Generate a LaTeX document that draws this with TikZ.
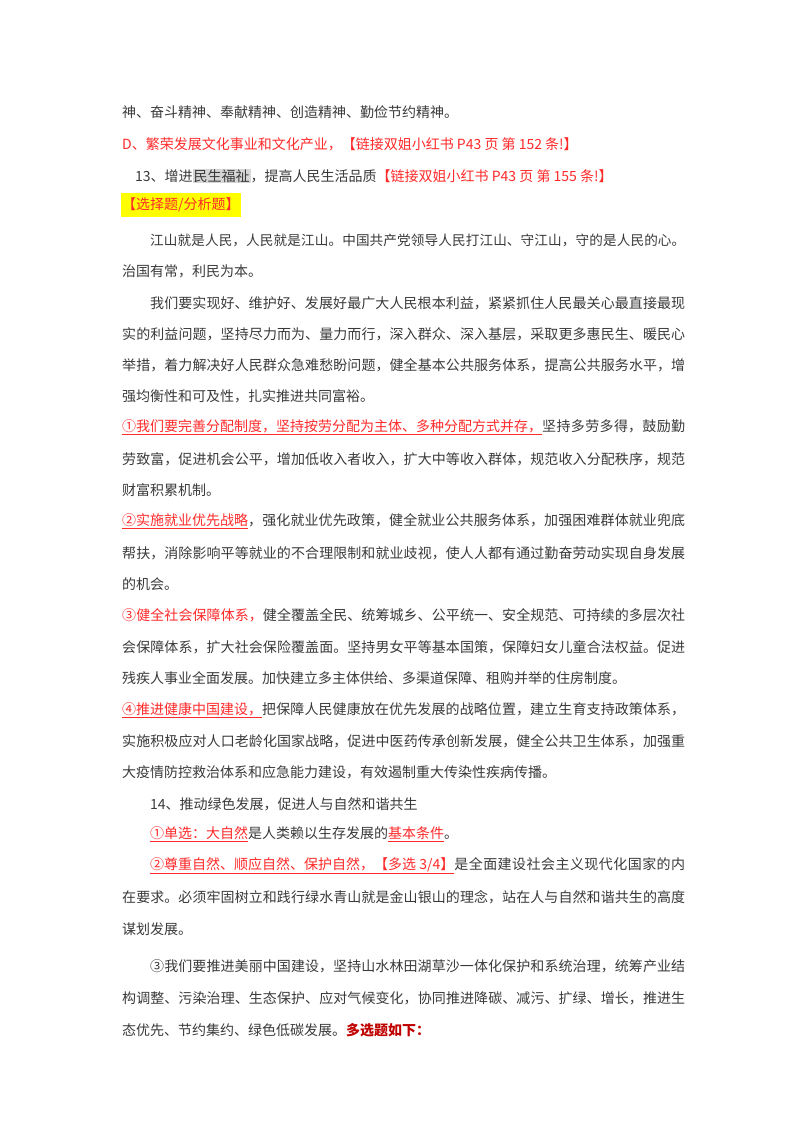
\documentclass[tikz,border=0pt]{standalone}
\usepackage{fontspec}
\setmainfont{Noto Sans CJK SC}
\XeTeXlinebreaklocale "zh"
\XeTeXlinebreakskip=0pt plus 2pt
\definecolor{txt}{HTML}{3A3A3A}
\definecolor{rd}{HTML}{FF2A2A}
\definecolor{drd}{HTML}{C00000}
\definecolor{yl}{HTML}{FFFF00}
\definecolor{hl}{HTML}{D6D6D6}
\newcommand\jl[2]{\parbox{#1pt}{\parfillskip=0pt\relax #2}}
\newcommand\rr[1]{\textcolor{rd}{#1}}
\newcommand\ru[1]{\textcolor{rd}{\underline{#1}}}
\tikzset{ln/.style={anchor=west,inner sep=0pt,font=\fontsize{14}{16}\selectfont,text=txt}}
\begin{document}
\begin{tikzpicture}[x=1pt,y=-1pt]
\useasboundingbox[fill=white] (0,0) rectangle (800,1132);
\node[ln] (a1) at (122,112) {神、奋斗精神、奉献精神、创造精神、勤俭节约精神。};
\node[ln,text=rd] (a2) at (122,144) {D、繁荣发展文化事业和文化产业，【链接双姐小红书 P43 页 第 152 条!】};
\node[ln] (a3) at (135,176) {13、增进{\fboxsep=1pt\colorbox{hl}{民生福祉}}，提高人民生活品质\rr{【链接双姐小红书 P43 页 第 155 条!】}};
\node[ln,fill=yl,text=rd,inner ysep=5pt,inner xsep=1pt] (box) at (121,205) {【选择题/分析题】};
\node[ln,font=\fontsize{13.6}{16}\selectfont] (b1) at (150,240) {\jl{535}{江山就是人民，人民就是江山。中国共产党领导人民打江山、守江山，守的是人民的心。}};
\node[ln] (b2) at (122,271) {治国有常，利民为本。};
\node[ln] (c1) at (150,303) {\jl{535}{我们要实现好、维护好、发展好最广大人民根本利益，紧紧抓住人民最关心最直接最现}};
\node[ln] (c2) at (122,334) {\jl{563}{实的利益问题，坚持尽力而为、量力而行，深入群众、深入基层，采取更多惠民生、暖民心}};
\node[ln] (c3) at (122,365) {\jl{563}{举措，着力解决好人民群众急难愁盼问题，健全基本公共服务体系，提高公共服务水平，增}};
\node[ln] (c4) at (122,396) {强均衡性和可及性，扎实推进共同富裕。};
\node[ln] (d1) at (122,427) {\jl{563}{\ru{①我们要完善分配制度，坚持按劳分配为主体、多种分配方式并存，}坚持多劳多得，鼓励勤}};
\node[ln] (d2) at (122,459) {\jl{563}{劳致富，促进机会公平，增加低收入者收入，扩大中等收入群体，规范收入分配秩序，规范}};
\node[ln] (d3) at (122,490) {财富积累机制。};
\node[ln] (e1) at (122,521) {\jl{563}{\ru{②实施就业优先战略}，强化就业优先政策，健全就业公共服务体系，加强困难群体就业兜底}};
\node[ln] (e2) at (122,553) {\jl{563}{帮扶，消除影响平等就业的不合理限制和就业歧视，使人人都有通过勤奋劳动实现自身发展}};
\node[ln] (e3) at (122,584) {的机会。};
\node[ln] (f1) at (122,615) {\jl{563}{\rr{③健全社会保障体系，}健全覆盖全民、统筹城乡、公平统一、安全规范、可持续的多层次社}};
\node[ln] (f2) at (122,647) {\jl{563}{会保障体系，扩大社会保险覆盖面。坚持男女平等基本国策，保障妇女儿童合法权益。促进}};
\node[ln] (f3) at (122,678) {残疾人事业全面发展。加快建立多主体供给、多渠道保障、租购并举的住房制度。};
\node[ln] (g1) at (122,710) {\jl{563}{\ru{④推进健康中国建设，}把保障人民健康放在优先发展的战略位置，建立生育支持政策体系，}};
\node[ln] (g2) at (122,741) {\jl{563}{实施积极应对人口老龄化国家战略，促进中医药传承创新发展，健全公共卫生体系，加强重}};
\node[ln] (g3) at (122,772) {大疫情防控救治体系和应急能力建设，有效遏制重大传染性疾病传播。};
\node[ln] (h0) at (150,804) {14、推动绿色发展，促进人与自然和谐共生};
\node[ln] (h1) at (150,834) {\ru{①单选：大自然}是人类赖以生存发展的\ru{基本条件}。};
\node[ln] (h2) at (150,866) {\jl{535}{\ru{②尊重自然、顺应自然、保护自然，【多选 3/4】}是全面建设社会主义现代化国家的内}};
\node[ln] (h3) at (122,897) {\jl{563}{在要求。必须牢固树立和践行绿水青山就是金山银山的理念，站在人与自然和谐共生的高度}};
\node[ln] (h4) at (122,929) {谋划发展。};
\node[ln] (i1) at (150,966) {\jl{535}{③我们要推进美丽中国建设，坚持山水林田湖草沙一体化保护和系统治理，统筹产业结}};
\node[ln] (i2) at (122,998) {\jl{563}{构调整、污染治理、生态保护、应对气候变化，协同推进降碳、减污、扩绿、增长，推进生}};
\node[ln] (i3) at (122,1030) {态优先、节约集约、绿色低碳发展。\textcolor{drd}{\bfseries 多选题如下：}};
\end{tikzpicture}
\end{document}
